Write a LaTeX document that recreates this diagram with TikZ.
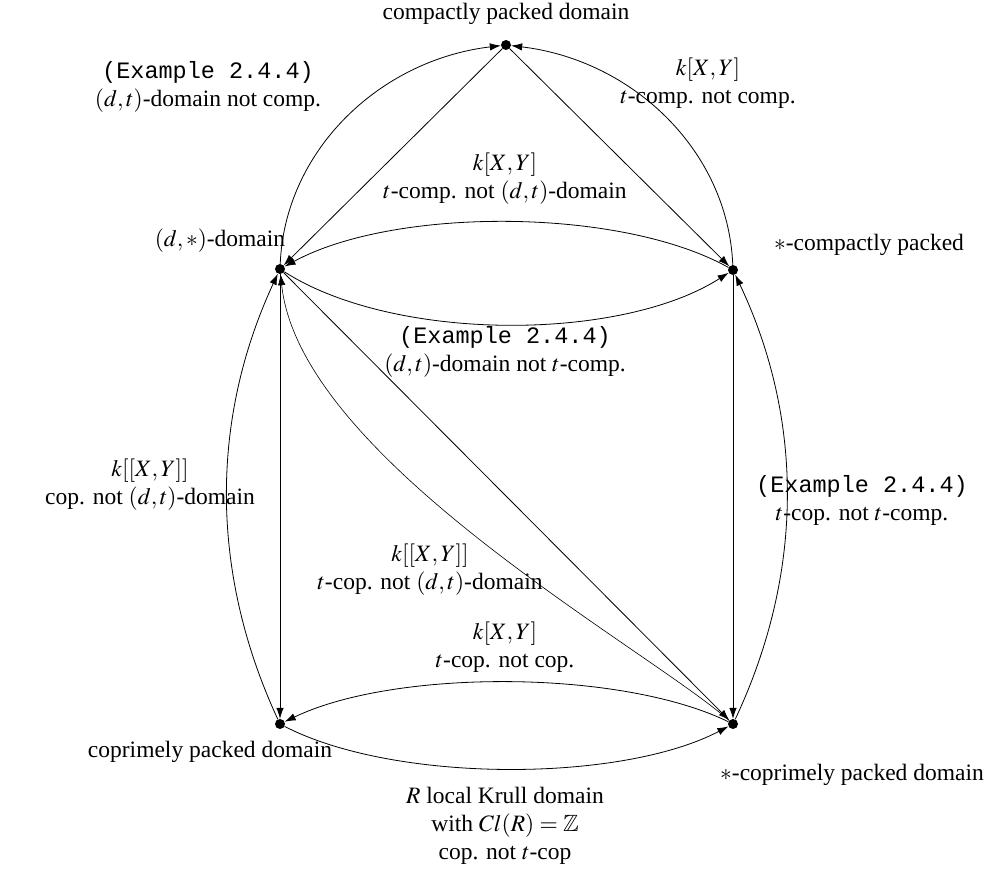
\documentclass[tikz,border=0pt]{standalone}
\usepackage{mathptmx}
\usepackage{amssymb}
\usepackage{fontspec}
\setmainfont{Liberation Serif}
\setmonofont{Liberation Mono}
\usetikzlibrary{arrows.meta}
\begin{document}
\begin{tikzpicture}[x=1pt,y=-1pt,
  every node/.style={font=\fontsize{23.5}{28}\selectfont},
  vtx/.style={circle,fill=black,inner sep=0pt,minimum size=10pt},
  lbl/.style={align=center,inner sep=0pt},
  edge/.style={line width=0.8pt,-{Latex[length=11pt,width=7.5pt]}},
  thinedge/.style={line width=0.6pt,-{Latex[length=11pt,width=7.5pt]}}]
\useasboundingbox (0,0) rectangle (994,880);
% vertices
\node[vtx] (C) at (506,45) {};
\node[vtx] (D) at (280,269) {};
\node[vtx] (S) at (733,270) {};
\node[vtx] (P) at (280,724) {};
\node[vtx] (Q) at (733,724) {};
% vertex labels
\node[lbl] (lC) at (506,14) {compactly packed domain};
\node[lbl] (lD) at (220,241) {$(d,*)$-domain};
\node[lbl] (lS) at (869,245) {$*$-compactly packed};
\node[lbl] (lP) at (210,752) {coprimely packed domain};
\node[lbl] (lQ) at (852,775) {$*$-coprimely packed domain};
% edges
\draw[edge] (D) .. controls (285,150) and (380,60) .. (C);
\draw[edge] (S) .. controls (728,150) and (632,60) .. (C);
\draw[edge] (C) -- (D);
\draw[edge] (C) -- (S);
\draw[edge] (S) .. controls (620,207) and (394,207) .. (D);
\draw[edge] (D) .. controls (394,342) and (620,342) .. (S);
\draw[edge] (D) -- (P);
\draw[edge] (P) .. controls (210,573) and (210,420) .. (D);
\draw[edge] (S) -- (Q);
\draw[edge] (Q) .. controls (804,573) and (804,420) .. (S);
\draw[edge] (D) -- (Q);
\draw[thinedge] (Q) .. controls (650,650) and (300,460) .. (D);
\draw[edge] (Q) .. controls (620,669) and (394,669) .. (P);
\draw[edge] (P) .. controls (394,783) and (620,783) .. (Q);
% edge labels
\node[lbl] (e1) at (208,87) {\texttt{(Example 2.4.4)}\\$(d,t)$-domain not comp.};
\node[lbl] (e2) at (708,83) {$k[X,Y]$\\$t$-comp. not comp.};
\node[lbl] (e3) at (505,179) {$k[X,Y]$\\$t$-comp. not $(d,t)$-domain};
\node[lbl] (e4) at (505,352) {\texttt{(Example 2.4.4)}\\$(d,t)$-domain not $t$-comp.};
\node[lbl] (e5) at (150,485) {$k[[X,Y]]$\\cop. not $(d,t)$-domain};
\node[lbl] (e6) at (862,500) {\texttt{(Example 2.4.4)}\\$t$-cop. not $t$-comp.};
\node[lbl] (e7) at (430,570) {$k[[X,Y]]$\\$t$-cop. not $(d,t)$-domain};
\node[lbl] (e8) at (505,647) {$k[X,Y]$\\$t$-cop. not cop.};
\node[lbl] (e9) at (505,826) {$R$ local Krull domain\\with $Cl(R)=\mathbb{Z}$\\cop. not $t$-cop};
\end{tikzpicture}
\end{document}
